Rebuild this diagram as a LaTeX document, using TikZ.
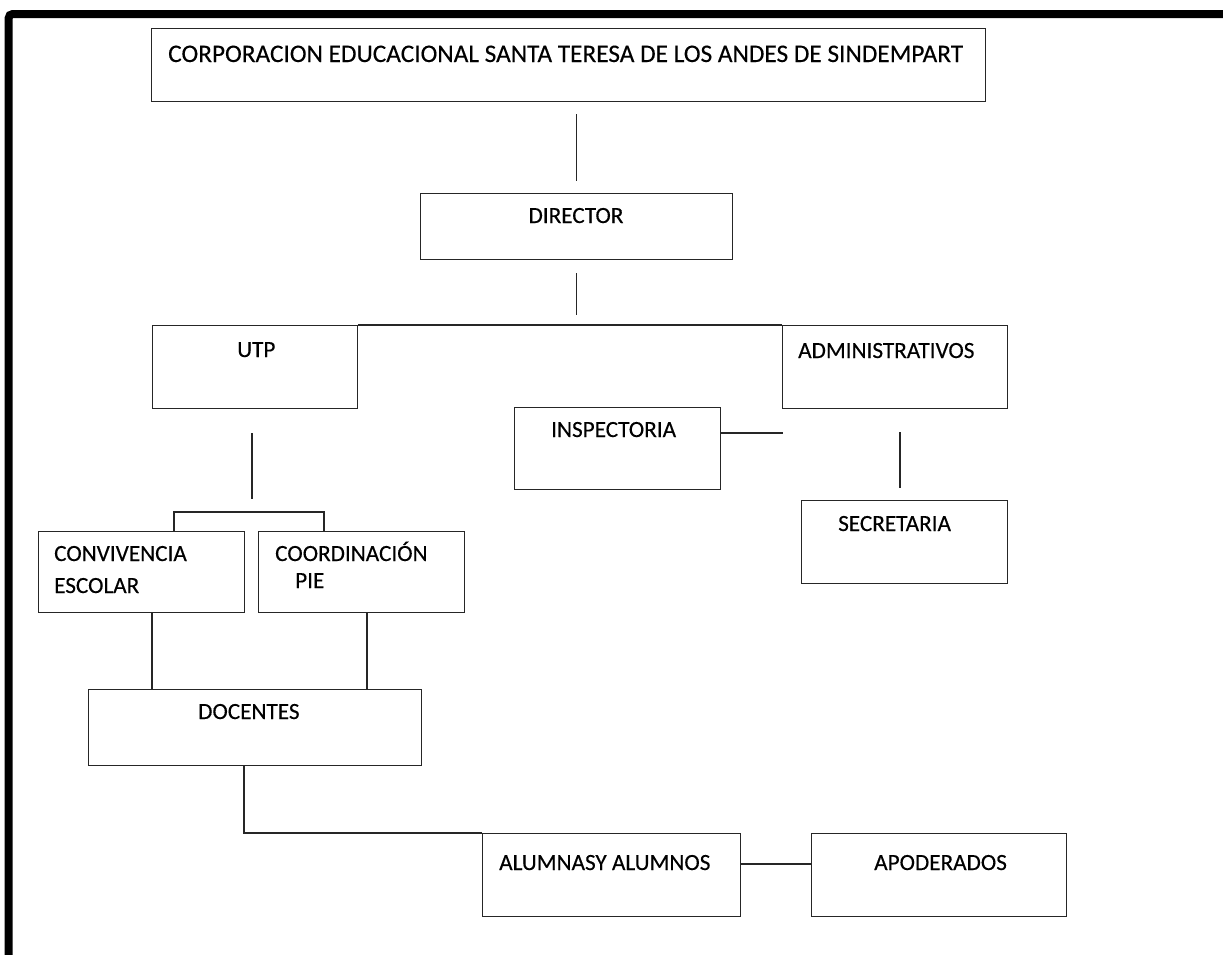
\documentclass[tikz,border=0pt]{standalone}
\usepackage{fontspec}
\setmainfont{Carlito}[FakeBold=0.3]
\usetikzlibrary{calc}
\tikzset{
  box/.style={draw=black!85, line width=1.3pt, inner sep=0pt, anchor=north west},
  lbl/.style={anchor=base west, inner sep=0pt, font=\fontsize{23.2}{28}\selectfont, text=black},
  lblc/.style={anchor=base, inner sep=0pt, font=\fontsize{23.2}{28}\selectfont, text=black},
  conn/.style={draw=black!85, line width=1.3pt},
}
\begin{document}
\begin{tikzpicture}[x=1pt,y=-1pt]
\useasboundingbox (0,0) rectangle (1223,954);
% frame
\begin{scope}
\clip (0,0) rectangle (1223,954);
\draw[line width=8pt, rounded corners=4pt] (8.7,970) -- (8.7,14) -- (1240,14);
\end{scope}
% boxes
\node[box, minimum width=834pt, minimum height=73pt] (top) at (151,28) {};
\node[box, minimum width=312pt, minimum height=66pt] (dir) at (420,193) {};
\node[box, minimum width=205pt, minimum height=83pt] (utp) at (152,325) {};
\node[box, minimum width=225pt, minimum height=83pt] (adm) at (782,325) {};
\node[box, minimum width=206pt, minimum height=82pt] (insp) at (514,407) {};
\node[box, minimum width=206pt, minimum height=83pt] (secr) at (801,500) {};
\node[box, minimum width=206pt, minimum height=81pt] (conv) at (38,531) {};
\node[box, minimum width=206pt, minimum height=81pt] (coord) at (258,531) {};
\node[box, minimum width=333pt, minimum height=76pt] (doc) at (88,689) {};
\node[box, minimum width=258pt, minimum height=83pt] (alum) at (482,833) {};
\node[box, minimum width=255pt, minimum height=83pt] (apod) at (811,833) {};
% texts
\node[lbl, font=\fontsize{25.3}{30}\selectfont] (ttop) at (168,62) {CORPORACION EDUCACIONAL SANTA TERESA DE LOS ANDES DE SINDEMPART};
\node[lblc] (tdir) at (576,223) {DIRECTOR};
\node[lbl] (tutp) at (237,357) {UTP};
\node[lbl] (tadm) at (798,358) {ADMINISTRATIVOS};
\node[lbl] (tinsp) at (551,437) {INSPECTORIA};
\node[lbl] (tsecr) at (838,531) {SECRETARIA};
\node[lbl] (tconv1) at (54,561) {CONVIVENCIA};
\node[lbl] (tconv2) at (54,593) {ESCOLAR};
\node[lbl] (tcoord1) at (275,561) {COORDINACIÓN};
\node[lbl] (tcoord2) at (295,588) {PIE};
\node[lbl] (tdoc) at (198,719) {DOCENTES};
\node[lbl] (talum) at (499,870) {ALUMNASY ALUMNOS};
\node[lbl] (tapod) at (874,870) {APODERADOS};
% helper coordinates
\coordinate (brL) at (174,512);
\coordinate (brR) at (324,512);
% connectors
\draw[conn] ($(top.south -| dir.north)+(0,-12pt)$) -- ($(dir.north)+(0,12pt)$);
\draw[conn] ($(dir.south)+(0,-13pt)$) -- ($(dir.south)+(0,-55pt)$);
\draw[conn] (utp.north east) -- (adm.north west);
\draw[conn] (252,433) -- (252,499);
\draw[conn] (conv.north -| brL) -- (brL) -- (brR) -- (coord.north -| brR);
\draw[conn] (insp.east |- 0,433) -- (783,433);
\draw[conn] (900,432) -- (900,488);
\draw[conn] (conv.south -| 152,0) -- (doc.north -| 152,0);
\draw[conn] (coord.south -| 367,0) -- (doc.north -| 367,0);
\draw[conn] (doc.south -| 244,0) |- (alum.north west);
\draw[conn] (alum.east |- 0,864) -- (apod.west |- 0,864);
\end{tikzpicture}
\end{document}
